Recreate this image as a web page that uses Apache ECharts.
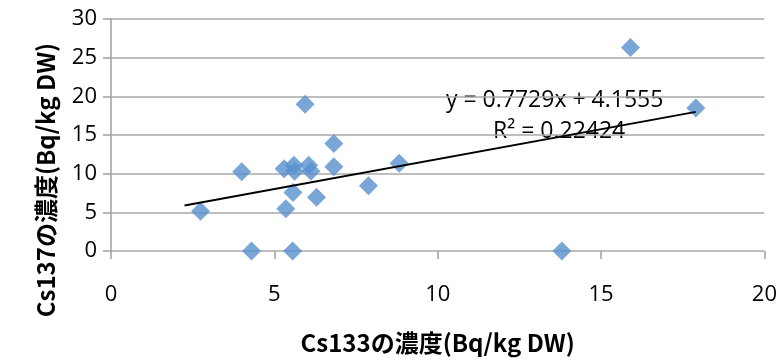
<!DOCTYPE html>
<html>
<head>
<meta charset="utf-8">
<script src="https://cdn.jsdelivr.net/npm/echarts@6/dist/echarts.min.js"></script>
<style>
  html, body { margin: 0; padding: 0; background: #fff; }
  #chart { width: 780px; height: 360px; }
</style>
</head>
<body>
<div id="chart"></div>
<script>
// Cs133 / Cs137 concentration pairs
var cs133 = [2.74, 4.0, 4.3, 5.3, 5.35, 5.57, 5.56, 5.6, 5.62, 5.94, 6.05, 6.12, 6.29, 6.82, 6.82, 7.88, 8.82, 13.8, 15.9, 17.9];
var cs137 = [5.15, 10.25, 0, 10.65, 5.45, 7.55, 0, 11.1, 10.3, 18.97, 11.1, 10.3, 6.95, 13.9, 10.9, 8.45, 11.35, 0, 26.3, 18.5];

// linear trend line from the equation in the picture
var slope = 0.7729;
var intercept = 4.1555;
var trendX = [2.25, 17.9];

var xTicks = [0, 5, 10, 15, 20];
var yTicks = [0, 5, 10, 15, 20, 25, 30];

var points = cs133.map(function(x, i) { return [x, cs137[i]]; });
var trend = trendX.map(function(x) { return [x, slope * x + intercept]; });

var font = '"Open Sans", "Noto Sans CJK JP", sans-serif';
var titleFont = '"Noto Sans CJK JP", "Open Sans", sans-serif';

var chart = echarts.init(document.getElementById('chart'));
chart.setOption({
    animation: false,
    grid: { left: 111, right: 15, top: 19, bottom: 108 },
    xAxis: {
        type: 'value',
        min: xTicks[0],
        max: xTicks[xTicks.length - 1],
        interval: 5,
        name: 'Cs133の濃度(Bq/kg DW)',
        nameLocation: 'middle',
        nameGap: 80,
        nameTextStyle: { fontFamily: titleFont, fontWeight: 'bold', fontSize: 24, color: '#000' },
        axisLine: { show: false },
        axisTick: { show: true, length: 8, lineStyle: { color: '#A0A0A0', width: 1.5 } },
        axisLabel: { margin: 33, fontFamily: font, fontSize: 22, color: '#000' },
        splitLine: { show: false }
    },
    yAxis: {
        type: 'value',
        min: yTicks[0],
        max: yTicks[yTicks.length - 1],
        interval: 5,
        axisLine: { show: true, lineStyle: { color: '#A0A0A0', width: 1.5 } },
        axisTick: { show: true, inside: false, length: 8, lineStyle: { color: '#A0A0A0', width: 1.5 } },
        axisLabel: { margin: 14, fontFamily: font, fontSize: 22, color: '#000' },
        splitLine: { show: true, lineStyle: { color: '#A8A8A8', width: 1.5 } }
    },
    graphic: [
        {
            type: 'text',
            x: 46, y: 180,
            rotation: Math.PI / 2,
            style: {
                text: 'Cs137の濃度(Bq/kg DW)',
                font: 'bold 24px ' + titleFont,
                fill: '#000',
                align: 'center',
                verticalAlign: 'middle'
            }
        },
        {
            type: 'text',
            x: 446, y: 100,
            style: {
                text: 'y = 0.7729x + 4.1555',
                font: '23px ' + font,
                fill: '#000',
                verticalAlign: 'middle'
            }
        },
        {
            type: 'text',
            x: 493, y: 131,
            style: {
                text: 'R² = 0.22424',
                font: '23px ' + font,
                fill: '#000',
                verticalAlign: 'middle'
            }
        }
    ],
    series: [
        {
            type: 'scatter',
            data: points,
            symbol: 'diamond',
            symbolSize: [19, 19],
            itemStyle: { color: '#5790CD' },
            z: 3
        },
        {
            type: 'line',
            data: trend,
            showSymbol: false,
            symbol: 'none',
            lineStyle: { color: '#000', width: 2 },
            z: 4
        }
    ]
});
</script>
</body>
</html>
